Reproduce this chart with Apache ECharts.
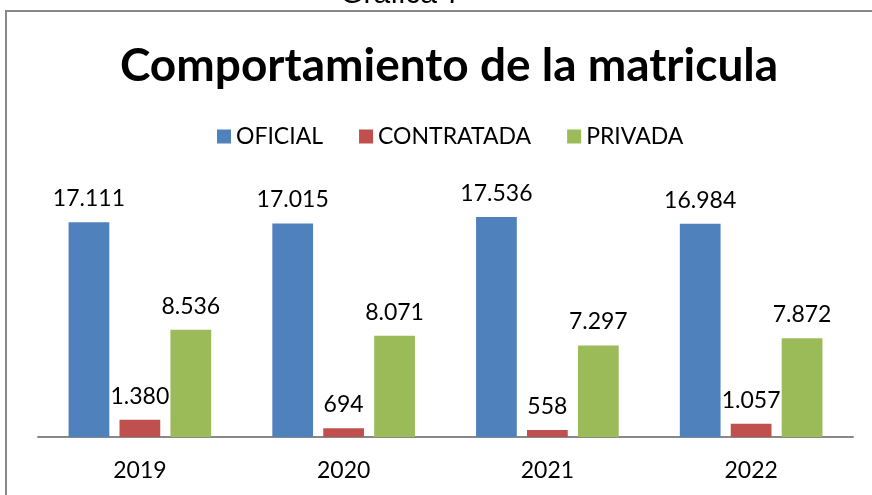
<!DOCTYPE html>
<html><head><meta charset="utf-8">
<script src="https://cdn.jsdelivr.net/npm/echarts@6/dist/echarts.min.js"></script>
<style>html,body{margin:0;padding:0;background:#fff}#c{width:872px;height:495px}</style>
</head><body><div id="c"></div>
<script>
const categories = ['2019', '2020', '2021', '2022'];
const oficial = [17111, 17015, 17536, 16984];
const contratada = [1380, 694, 558, 1057];
const privada = [8536, 8071, 7297, 7872];
const seriesNames = ['OFICIAL', 'CONTRATADA', 'PRIVADA'];
const colors = ['#4F81BD', '#C0504D', '#9BBB59'];

const fmt = v => String(v).replace(/\B(?=(\d{3})+(?!\d))/g, '.');
const font = 'Lato, "Open Sans", sans-serif';
const chart = echarts.init(document.getElementById('c'));
const mk = (name, data, color) => ({
  name, type: 'bar', data,
  itemStyle: { color },
  barGap: '25%', barCategoryGap: '30%',
  label: { show: true, position: 'top', distance: 12, color: '#000', fontSize: 23, fontFamily: font,
    formatter: p => fmt(p.value) }
});
chart.setOption({
  animation: false,
  graphic: [
    { type: 'rect', shape: { x: 6, y: 11, width: 880, height: 500 }, style: { fill: 'none', stroke: '#888', lineWidth: 2 } },
    { type: 'text', x: 401, y: 10, style: { text: 'Gráfica 7', fontSize: 30, fontFamily: '"Liberation Sans", Arial', fill: '#000', textAlign: 'center', textVerticalAlign: 'bottom' } }
  ],
  title: { text: 'Comportamiento de la matricula', left: 444, textAlign: 'center', top: 38,
    textStyle: { fontSize: 46, fontWeight: 'bold', fontFamily: font, color: '#000' } },
  legend: { top: 120, left: 212, itemWidth: 14, itemHeight: 14, itemGap: 36, icon: 'rect',
    textStyle: { fontSize: 23, fontFamily: font, color: '#000' }, data: seriesNames },
  grid: { left: 38, right: 19, top: 186, bottom: 58 },
  xAxis: { type: 'category', data: categories,
    axisLine: { lineStyle: { color: '#888', width: 2 } }, axisTick: { show: false },
    axisLabel: { fontSize: 23, fontFamily: font, color: '#000', margin: 22 } },
  yAxis: { type: 'value', min: 0, max: 20000, show: false, splitLine: { show: false } },
  series: [mk(seriesNames[0], oficial, colors[0]), mk(seriesNames[1], contratada, colors[1]), mk(seriesNames[2], privada, colors[2])]
});
</script></body></html>
